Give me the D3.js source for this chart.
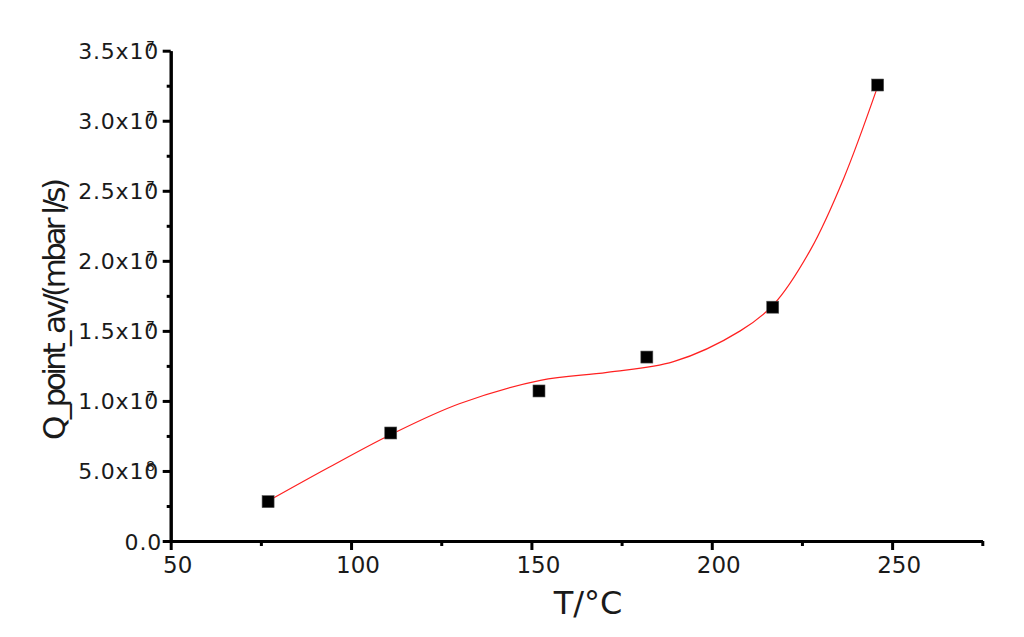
<!DOCTYPE html>
<html><head><meta charset="utf-8">
<script src="https://cdn.jsdelivr.net/npm/d3@7"></script>
<style>
html,body{margin:0;padding:0;background:#fff;}
svg{display:block;}
text{font-family:"DejaVu Sans",sans-serif;fill:#1a1a1a;}
</style></head>
<body><svg id="c" width="1024" height="637"></svg>
<script>
// Measured data points
const tempC = [77.0, 111.0, 152.1, 182.0, 216.9, 246.0];
const qPoint = [2.81e6, 7.71e6, 1.071e7, 1.313e7, 1.669e7, 3.255e7];
// Fit curve
const fitT = [77.0, 93.4, 111.2, 130.0, 152.5, 171.0, 189.4, 207.9, 217.2, 227.4, 236.6, 246.0];
const fitQ = [2.85e6, 5.19e6, 7.62e6, 9.80e6, 1.147e7, 1.204e7, 1.280e7, 1.500e7, 1.690e7, 2.080e7, 2.590e7, 3.245e7];
// Axis ticks
const xTicks = [50, 100, 150, 200, 250];
const xMinor = [75, 125, 175, 225, 275];
const xTickLabels = ["50", "100", "150", "200", "250"];
const yTicks = [0, 5e6, 1e7, 1.5e7, 2e7, 2.5e7, 3e7, 3.5e7];
const yMinor = [2.5e6, 7.5e6, 1.25e7, 1.75e7, 2.25e7, 2.75e7, 3.25e7];
const yTickMant = ["0.0", "5.0x10", "1.0x10", "1.5x10", "2.0x10", "2.5x10", "3.0x10", "3.5x10"];
const yTickExp = ["", "8", "7", "7", "7", "7", "7", "7"];
const xTitle = "T/°C";
const yTitle = "Q_point_av/(mbar l/s)";

const svg = d3.select("#c");
const x = d3.scaleLinear().domain([50, 275]).range([170.7, 982.3]);
const y = d3.scaleLinear().domain([0, 3.5e7]).range([541, 50.7]);

// Fit curve
svg.append("path")
  .datum(fitT.map((t, i) => [t, fitQ[i]]))
  .attr("fill", "none").attr("stroke", "#ff2020").attr("stroke-width", 1.2)
  .attr("d", d3.line().x(d => x(d[0])).y(d => y(d[1])).curve(d3.curveCatmullRom.alpha(0.5)));

// Points
svg.append("g").selectAll("rect").data(tempC.map((t, i) => [t, qPoint[i]])).join("rect")
  .attr("x", d => x(d[0]) - 6).attr("y", d => y(d[1]) - 6)
  .attr("width", 12).attr("height", 12).attr("fill", "#000")
  .attr("stroke", "#555").attr("stroke-width", 0.6);

// Axes
function styleAxis(g, w) {
  g.selectAll(".domain").attr("stroke", "#000").attr("stroke-width", w);
  g.selectAll(".tick line").attr("stroke", "#000").attr("stroke-width", 3);
  g.selectAll(".tick text").remove();
}
svg.append("g").attr("transform", "translate(0,541)")
  .call(d3.axisBottom(x).tickValues(xMinor).tickSize(5).tickSizeOuter(0))
  .call(g => styleAxis(g, 3));
svg.append("g").attr("transform", "translate(0,541)")
  .call(d3.axisBottom(x).tickValues(xTicks).tickSize(9).tickSizeOuter(0))
  .call(g => styleAxis(g, 3));
svg.append("g").attr("transform", "translate(170.7,0)")
  .call(d3.axisLeft(y).tickValues(yMinor).tickSize(4).tickSizeOuter(0))
  .call(g => styleAxis(g, 3));
svg.append("g").attr("transform", "translate(170.7,0)")
  .call(d3.axisLeft(y).tickValues(yTicks).tickSize(8).tickSizeOuter(0))
  .call(g => styleAxis(g, 3));

// X tick labels
svg.append("g").selectAll("text").data(xTicks).join("text")
  .attr("x", d => x(d) + 7).attr("y", 573)
  .attr("text-anchor", "middle").attr("font-size", 23)
  .text((d, i) => xTickLabels[i]);

// Y tick labels (exponent drawn back over the mantissa, as in the reference)
const yl = svg.append("g");
yTicks.forEach((v, i) => {
  const t = yl.append("text").attr("x", yTickExp[i] ? 159 : 162).attr("y", y(v) + 8.5)
    .attr("text-anchor", "end").attr("font-size", 22).attr("letter-spacing", 0.8);
  t.append("tspan").text(yTickMant[i]);
  if (yTickExp[i]) {
    t.append("tspan").attr("dx", -13).attr("dy", -8).attr("font-size", 14)
      .attr("letter-spacing", 0).text(yTickExp[i]);
  }
});

// Titles
svg.append("text").attr("x", 588).attr("y", 614).attr("text-anchor", "middle")
  .attr("font-size", 32).text(xTitle);
svg.append("text").attr("transform", "translate(65,309) rotate(-90)")
  .attr("text-anchor", "middle").attr("font-size", 31)
  .attr("textLength", 262).attr("lengthAdjust", "spacing")
  .text(yTitle);
</script></body></html>
